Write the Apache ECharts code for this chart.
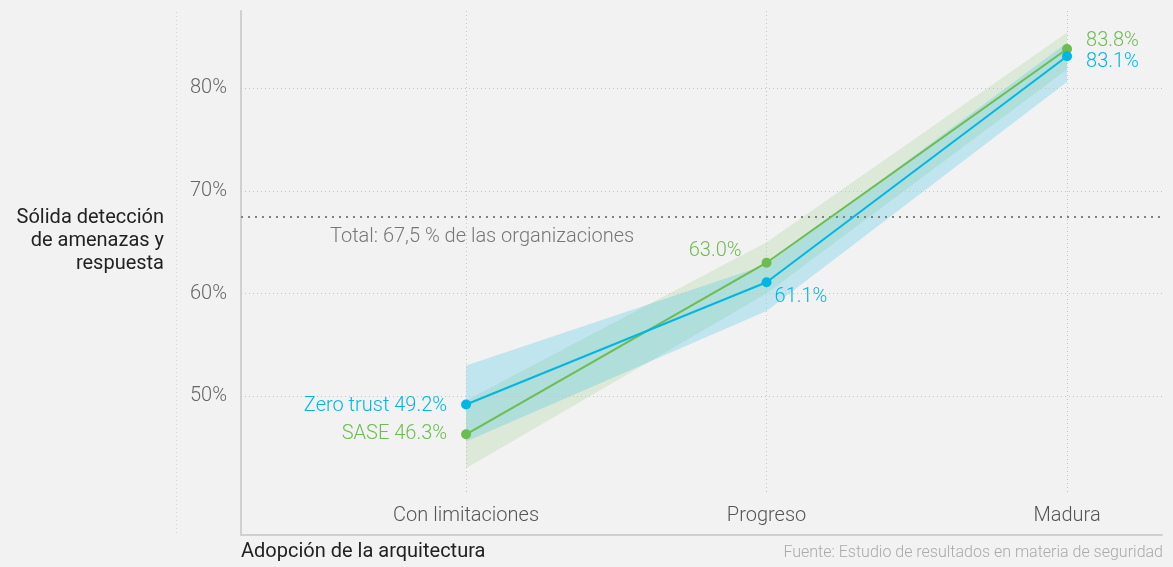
<!DOCTYPE html>
<html>
<head>
<meta charset="utf-8">
<script src="https://cdn.jsdelivr.net/npm/echarts@6/dist/echarts.min.js"></script>
<style>
  html, body { margin: 0; padding: 0; background: #f2f2f2; }
  #chart { width: 1173px; height: 567px; }
</style>
</head>
<body>
<div id="chart"></div>
<script>
const categories = ['Con limitaciones', 'Progreso', 'Madura']
const yTicks = [50, 60, 70, 80]
const totalValue = 67.5

const zeroTrust = [49.2, 61.1, 83.1]
const zeroTrustLow = [45.6, 58.3, 80.6]
const zeroTrustHigh = [53.0, 62.8, 84.4]

const sase = [46.3, 63.0, 83.8]
const saseLow = [43.0, 60.0, 81.8]
const saseHigh = [49.6, 65.0, 85.4]

const BLUE = '#00b6e4'
const GREEN = '#6cbd4f'
const FONT = 'Roboto, sans-serif'

const chart = echarts.init(document.getElementById('chart'), null, { renderer: 'canvas' })

// confidence band: one polygon, upper edge forward then lower edge back
function band(low, high, fill) {
    return {
        type: 'custom', silent: true, z: 1,
        data: [0],
        renderItem: (params, api) => {
            const pts = []
            high.forEach((v, i) => pts.push(api.coord([i, v])))
            for (let i = low.length - 1; i >= 0; i--) pts.push(api.coord([i, low[i]]))
            return {
                type: 'polygon',
                shape: { points: pts },
                style: { fill: fill },
            }
        },
    }
}

function pointLabels(values, color, opts) {
    return values.map((v, i) => ({
        value: [i, v],
        label: {
            show: true,
            color: color,
            fontSize: 20,
            fontWeight: 300,
            fontFamily: FONT,
            formatter: (opts[i].prefix || '') + v.toFixed(1) + '%',
            position: opts[i].position,
            distance: opts[i].distance,
            offset: opts[i].offset,
        },
    }))
}

const gridLineStyle = { color: '#c4c4c4', type: [1, 3], width: 1 }

chart.setOption({
    backgroundColor: '#f2f2f2',
    animation: false,
    grid: { left: 241, right: 11, top: 11, bottom: 32 },
    xAxis: {
        type: 'value',
        min: -0.749,
        max: 2.316,
        axisLine: { show: true, onZero: false, lineStyle: { color: '#d0d0d0', width: 2 } },
        axisTick: { show: false },
        splitLine: { show: false },
        axisLabel: {
            inside: true,
            margin: 9,
            customValues: [0, 1, 2],
            formatter: (v) => categories[v],
            color: '#555555',
            fontSize: 20,
            fontWeight: 300,
            fontFamily: FONT,
        },
    },
    yAxis: {
        type: 'value',
        min: 36.5,
        max: 87.5,
        axisLine: { show: true, onZero: false, lineStyle: { color: '#d0d0d0', width: 2 } },
        axisTick: { show: false },
        splitLine: { show: false },
        axisLabel: {
            customValues: yTicks,
            formatter: '{value}%',
            margin: 14,
            color: '#666666',
            fontSize: 20,
            fontWeight: 300,
            fontFamily: FONT,
        },
    },
    graphic: [
        {
            type: 'line', silent: true,
            shape: { x1: 176.5, y1: 12, x2: 176.5, y2: 535 },
            style: { stroke: '#d2d2d2', lineWidth: 1, lineDash: [1, 3] },
        },
        {
            type: 'text', right: 1009, top: 206,
            style: {
                text: 'Sólida detección\nde amenazas y\nrespuesta',
                textAlign: 'right', fill: '#222222', fontSize: 20, fontFamily: FONT, lineHeight: 23,
            },
        },
        {
            type: 'text', left: 330, top: 227,
            style: { text: 'Total: 67,5 % de las organizaciones', fill: '#777777', fontSize: 20, fontWeight: 300, fontFamily: FONT },
        },
        {
            type: 'text', left: 241, top: 542,
            style: { text: 'Adopción de la arquitectura', fill: '#222222', fontSize: 20, fontFamily: FONT },
        },
        {
            type: 'text', right: 10, top: 545,
            style: { text: 'Fuente: Estudio de resultados en materia de seguridad', fill: '#aaaaaa', fontSize: 16, fontWeight: 300, fontFamily: FONT },
        },
    ],
    series: [
        // gridlines and total reference line
        {
            type: 'line', data: [], silent: true,
            markLine: {
                silent: true, symbol: 'none', label: { show: false },
                data: [
                    ...yTicks.map(t => ({ yAxis: t, lineStyle: gridLineStyle })),
                    ...categories.map((c, i) => [
                        { coord: [i, 87.5], lineStyle: gridLineStyle },
                        { coord: [i, 40.6] },
                    ]),
                    { yAxis: totalValue, lineStyle: { color: '#808080', type: [2, 5], width: 2 } },
                ],
            },
            z: 0,
        },
        band(saseLow, saseHigh, 'rgba(108,189,79,0.16)'),
        band(zeroTrustLow, zeroTrustHigh, 'rgba(0,182,228,0.2)'),
        {
            name: 'SASE', type: 'line',
            symbol: 'circle', symbolSize: 10,
            itemStyle: { color: GREEN },
            lineStyle: { color: GREEN, width: 2 },
            data: pointLabels(sase, GREEN, [
                { prefix: 'SASE ', position: 'left', distance: 14, offset: [0, 0] },
                { position: 'left', distance: 20, offset: [0, -12] },
                { position: 'right', distance: 14, offset: [0, -8] },
            ]),
            z: 5,
        },
        {
            name: 'Zero trust', type: 'line',
            symbol: 'circle', symbolSize: 10,
            itemStyle: { color: BLUE },
            lineStyle: { color: BLUE, width: 2 },
            data: pointLabels(zeroTrust, BLUE, [
                { prefix: 'Zero trust ', position: 'left', distance: 14, offset: [0, 1] },
                { position: 'right', distance: 3, offset: [0, 15] },
                { position: 'right', distance: 14, offset: [0, 6] },
            ]),
            z: 6,
        },
    ],
})
</script>
</body>
</html>
